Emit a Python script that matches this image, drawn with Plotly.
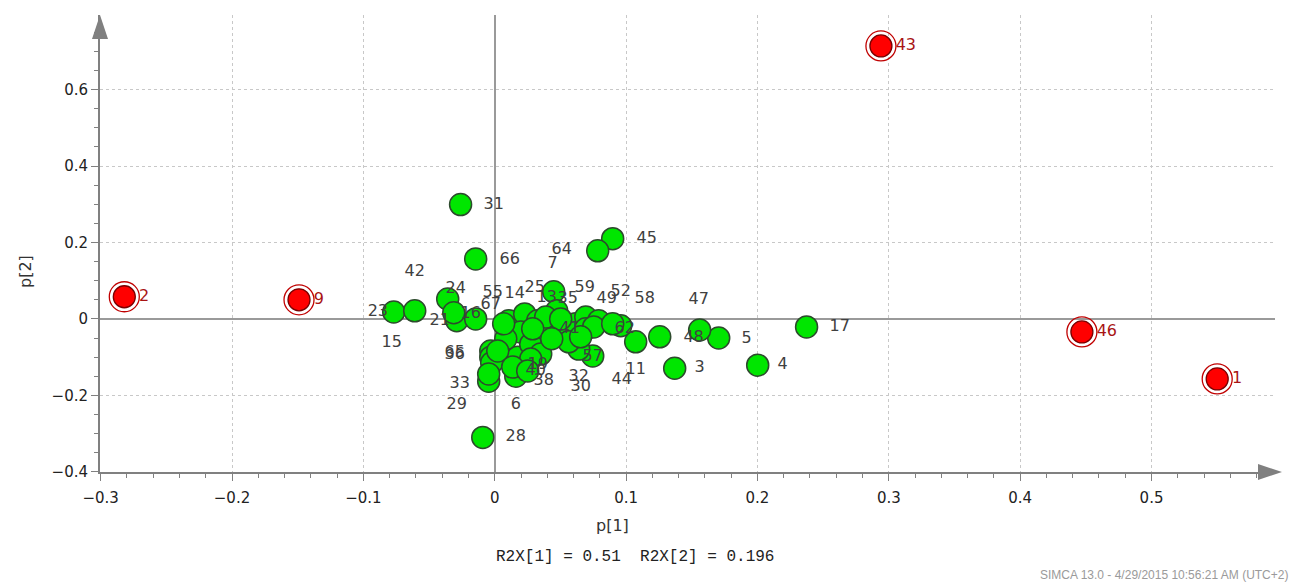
import plotly.graph_objects as go

# ---- data ----
red_x = [-0.282, -0.149, 0.294, 0.447, 0.550]
red_y = [0.058, 0.050, 0.714, -0.034, -0.157]
red_labels = ["2", "9", "43", "46", "1"]

green_x = [-0.026, -0.0145, 0.0898, 0.0784, 0.2374, 0.2002, 0.137, 0.1705, 0.156, -0.0091,
           -0.0769, -0.0609, -0.0358, -0.0289, -0.0312, -0.0145, -0.0046, -0.003, -0.003, -0.0023,
           0.016, 0.0175, 0.1073, 0.1256, 0.0746, 0.0639, 0.0449, 0.0107, 0.0228, 0.0327,
           0.0198, 0.0084, 0.0023, 0.0274, 0.0411, 0.0518, 0.0616, 0.0693, 0.0791, 0.0693,
           0.0959, 0.0563, 0.035, 0.0472, 0.0388, 0.0753, 0.0654, 0.0274, 0.0137, 0.0068,
           0.0502, 0.0289, 0.0898, 0.0434, 0.0251, -0.0046]
green_y = [0.299, 0.157, 0.210, 0.178, -0.021, -0.121, -0.129, -0.050, -0.029, -0.310,
           0.018, 0.021, 0.052, -0.005, 0.016, 0.000, -0.163, -0.084, -0.100, -0.115,
           -0.150, -0.100, -0.060, -0.047, -0.097, -0.079, 0.071, -0.005, 0.013, -0.005,
           -0.034, -0.052, -0.084, -0.066, -0.021, -0.034, -0.013, 0.005, -0.005, -0.026,
           -0.018, -0.060, -0.092, 0.021, 0.005, -0.021, -0.047, -0.105, -0.126, -0.013,
           0.000, -0.026, -0.013, -0.052, -0.136, -0.144]

label_text = ["31", "66", "45", "64", "7", "42", "24", "55", "14", "25", "59", "13", "35",
              "49", "52", "58", "67", "16", "21", "23", "15", "47", "48", "5", "17", "4",
              "3", "11", "44", "32", "30", "57", "38", "6", "29", "33", "65", "36", "41",
              "62", "28", "19", "40"]
label_x = [-0.0008, 0.0114, 0.1157, 0.051, 0.0441, -0.0609, -0.0297, -0.0015, 0.0152, 0.0304,
           0.0685, 0.0396, 0.0556, 0.0852, 0.0959, 0.1142, -0.003, -0.0183, -0.0419, -0.089,
           -0.0784, 0.1553, 0.1514, 0.1918, 0.2626, 0.2192, 0.156, 0.1073, 0.0967, 0.0639,
           0.0654, 0.0746, 0.0373, 0.016, -0.0289, -0.0266, -0.0304, -0.0304, 0.0571,
           0.0989, 0.016, 0.0327, 0.0312]
label_y = [0.299, 0.155, 0.210, 0.181, 0.144, 0.123, 0.079, 0.068, 0.066, 0.081,
           0.081, 0.055, 0.052, 0.052, 0.071, 0.052, 0.037, 0.013, -0.005, 0.018,
           -0.063, 0.050, -0.050, -0.052, -0.021, -0.121, -0.129, -0.134, -0.160, -0.152,
           -0.178, -0.100, -0.163, -0.226, -0.226, -0.171, -0.089, -0.095, -0.026,
           -0.026, -0.310, -0.121, -0.136]

x_range = [-0.3005, 0.594]
y_range = [-0.4005, 0.795]

fig = go.Figure()

fig.add_trace(go.Scatter(
    x=green_x, y=green_y, mode="markers",
    marker=dict(size=22, color="#00e600", line=dict(color="#2d4a2d", width=1.5)),
    hoverinfo="skip", showlegend=False))

fig.add_trace(go.Scatter(
    x=label_x, y=label_y, mode="text", text=label_text,
    textfont=dict(family="DejaVu Sans", size=16, color="#404040"),
    hoverinfo="skip", showlegend=False))

fig.add_trace(go.Scatter(
    x=red_x, y=red_y, mode="markers",
    marker=dict(size=30, symbol="circle-open", color="#c00000", line=dict(color="#c00000", width=1.3)),
    hoverinfo="skip", showlegend=False))
fig.add_trace(go.Scatter(
    x=red_x, y=red_y, mode="markers+text", text=red_labels, textposition="middle right",
    marker=dict(size=22, color="#ff0000", line=dict(color="#7a0000", width=1.3)),
    textfont=dict(family="DejaVu Sans", size=16, color="#a81414"),
    hoverinfo="skip", showlegend=False))

axis_common = dict(
    showgrid=True, gridcolor="#c8c8c8", griddash="dot", gridwidth=1,
    zeroline=True, zerolinecolor="#9a9a9a", zerolinewidth=2,
    showline=True, linecolor="#808080", linewidth=2,
    ticks="outside", tickcolor="#808080", ticklen=7,
    tickfont=dict(family="DejaVu Sans", size=15, color="#222222"),
    minor=dict(ticks="outside", ticklen=4, tickcolor="#808080", showgrid=False),
    automargin=False,
)

fig.update_xaxes(range=x_range, dtick=0.1, tick0=0, ticklabelstandoff=4, **axis_common)
fig.update_yaxes(range=y_range, dtick=0.2, tick0=0, **axis_common)

L, R, T, B = 100, 20, 15, 113
pw, ph = 1295.0 - L - R, 585.0 - T - B
fig.update_layout(
    width=1295, height=585,
    margin=dict(l=L, r=R, t=T, b=B),
    plot_bgcolor="white", paper_bgcolor="white",
    shapes=[
        dict(type="path", xref="paper", yref="paper",
             path=f"M {-8/pw} {1-24/ph} L {8/pw} {1-24/ph} L 0 1.0 Z",
             fillcolor="#808080", line=dict(width=0)),
        dict(type="path", xref="paper", yref="paper",
             path=f"M {1-17/pw} {8/ph} L {1-17/pw} {-8/ph} L {1+7/pw} 0 Z",
             fillcolor="#808080", line=dict(width=0)),
    ],
    annotations=[
        dict(text="p[1]", xref="paper", yref="paper", x=(612-L)/pw, y=(472-525)/ph,
             yanchor="middle", showarrow=False,
             font=dict(family="DejaVu Sans", size=16, color="#333333")),
        dict(text="p[2]", xref="paper", yref="paper", x=(25-L)/pw, y=(472-272)/ph,
             yanchor="middle", xanchor="center",
             showarrow=False, textangle=-90, font=dict(family="DejaVu Sans", size=16, color="#333333")),
        dict(text="R2X[1] = 0.51  R2X[2] = 0.196", xref="paper", yref="paper",
             x=(635-L)/pw, y=(472-557)/ph, yanchor="middle", showarrow=False,
             font=dict(family="Liberation Mono", size=16, color="#222222")),
        dict(text="SIMCA 13.0 - 4/29/2015 10:56:21 AM (UTC+2)", xref="paper", yref="paper",
             x=(1290-L)/pw, y=(472-575)/ph, xanchor="right", yanchor="middle", showarrow=False,
             font=dict(family="Liberation Sans", size=12, color="#9a9a9a")),
    ],
)

fig.write_html(
    "out.html",
    config={"displayModeBar": False},
    post_script="document.body.style.margin='0';document.body.style.overflow='hidden';",
)
